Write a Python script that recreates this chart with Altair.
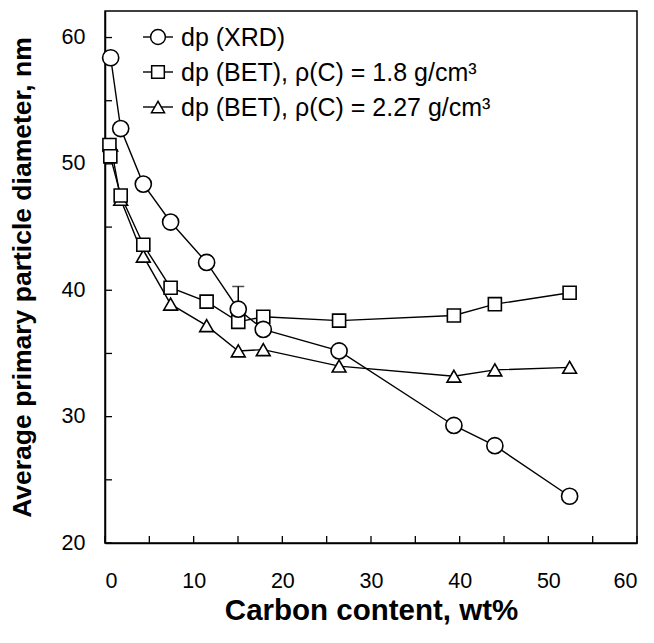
import altair as alt
import pandas as pd

# ---- data ----
carbon = [0.64, 1.77, 4.32, 7.4, 11.46, 15.03, 17.85, 26.4, 39.35, 43.97, 52.4]
dp_xrd = [58.4, 52.8, 48.4, 45.4, 42.2, 38.5, 36.9, 35.2, 29.3, 27.7, 23.7]

carbon_sq = [0.5, 0.6, 1.77, 4.32, 7.4, 11.46, 15.03, 17.85, 26.4, 39.35, 43.97, 52.4]
dp_bet18 = [51.5, 50.6, 47.5, 43.6, 40.2, 39.1, 37.5, 37.9, 37.6, 38.0, 38.9, 39.8]

dp_bet227 = [51.5, 47.2, 42.7, 38.9, 37.2, 35.2, 35.3, 34.0, 33.2, 33.7, 33.9]

err_x = [15.03]
err_lo = [38.5]
err_hi = [40.3]

labels = ["dp (XRD)", "dp (BET), ρ(C) = 1.8 g/cm³", "dp (BET), ρ(C) = 2.27 g/cm³"]
shapes = ["circle", "square", "triangle-up"]

x_ticks = list(range(0, 61, 5))
y_ticks = list(range(20, 61, 5))
x_labels = list(range(0, 61, 10))
y_labels = list(range(20, 61, 10))

FONT = "Liberation Sans"
W, H = 532, 532

df_xrd = pd.DataFrame({"x": carbon, "y": dp_xrd})
df_b18 = pd.DataFrame({"x": carbon_sq, "y": dp_bet18})
df_b227 = pd.DataFrame({"x": carbon, "y": dp_bet227})
df_err = pd.DataFrame({"x": err_x, "lo": err_lo, "hi": err_hi})

xs = alt.Scale(domain=[0, 60], nice=False, zero=False)
ys = alt.Scale(domain=[20, 62.1], nice=False, zero=False)

xenc = alt.X("x:Q", scale=xs, axis=alt.Axis(
    title="Carbon content, wt%", values=x_labels, ticks=False, tickSize=0,
    grid=False, labelPadding=27, titlePadding=5, format="d", titleFontSize=29.5))
yenc = alt.Y("y:Q", scale=ys, axis=alt.Axis(
    title="Average primary particle diameter, nm", values=y_labels, ticks=False,
    tickSize=0, grid=False, labelPadding=20, titlePadding=25, format="d", titleFontSize=26.5))

def line(df):
    return alt.Chart(df).mark_line(color="black", strokeWidth=1.4).encode(x=xenc, y=yenc)

def pts(df, shape, size):
    return alt.Chart(df).mark_point(shape=shape, size=size, filled=True, fill="white",
                                    stroke="black", strokeWidth=1.6, opacity=1).encode(x=xenc, y=yenc)

err_rule = alt.Chart(df_err).mark_rule(color="black", strokeWidth=1.5).encode(
    x=alt.X("x:Q", scale=xs), y=alt.Y("lo:Q", scale=ys), y2="hi:Q")
err_cap = alt.Chart(df_err).mark_tick(color="black", orient="horizontal", size=12, thickness=1.5).encode(
    x=alt.X("x:Q", scale=xs), y=alt.Y("hi:Q", scale=ys))

xt = alt.Chart(pd.DataFrame({"t": x_ticks})).mark_rule(color="black", strokeWidth=1.3).encode(
    x=alt.X("t:Q", scale=xs), y=alt.value(H), y2=alt.value(H - 7))
yt = alt.Chart(pd.DataFrame({"t": y_ticks})).mark_rule(color="black", strokeWidth=1.3).encode(
    y=alt.Y("t:Q", scale=ys), x=alt.value(0), x2=alt.value(7))

# legend (manual)
leg_layers = []
row_y = [26, 61, 96]
for i, (lab, shp) in enumerate(zip(labels, shapes)):
    ld = pd.DataFrame({"lab": [lab]})
    yv = row_y[i]
    leg_layers.append(alt.Chart(ld).mark_rule(color="black", strokeWidth=1.4).encode(
        x=alt.value(38), x2=alt.value(68), y=alt.value(yv)))
    leg_layers.append(alt.Chart(ld).mark_point(shape=shp, size=[220, 160, 170][i], filled=True,
                                               fill="white", stroke="black", strokeWidth=1.5,
                                               opacity=1).encode(
        x=alt.value(53), y=alt.value(yv)))
    leg_layers.append(alt.Chart(ld).mark_text(align="left", baseline="middle", font=FONT,
                                              fontSize=25, color="black").encode(
        x=alt.value(76), y=alt.value(yv + 1), text="lab:N"))

chart = alt.layer(
    xt, yt,
    line(df_xrd), line(df_b18), line(df_b227),
    err_rule,
    pts(df_b227, "triangle-up", 190), pts(df_b18, "square", 170), pts(df_xrd, "circle", 260),
    err_cap,
    *leg_layers,
).properties(
    width=W, height=H,
    autosize=alt.AutoSizeParams(type="none"),
    padding={"left": 97, "top": 3, "right": 9, "bottom": 92},
).configure_view(
    stroke="black", strokeWidth=1.5
).configure_axis(
    labelFont=FONT, labelFontSize=21.5, labelColor="black",
    titleFont=FONT, titleFontWeight="bold", titleColor="black",
    domainColor="black", domainWidth=1.5,
)

chart.save("out.html", embed_options={"renderer": "svg", "actions": False})
